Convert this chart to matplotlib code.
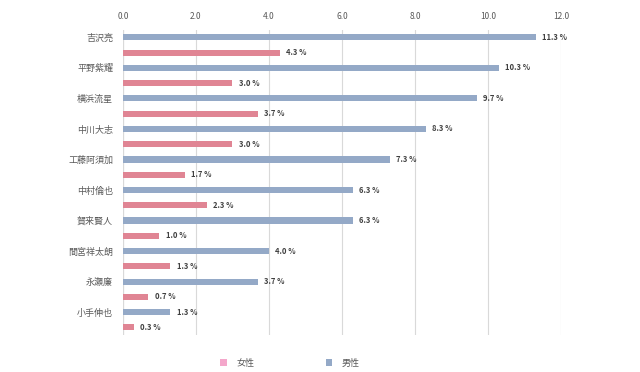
import numpy as np
import matplotlib.pyplot as plt
from matplotlib.patches import Rectangle

plt.rcParams['font.family'] = ['Noto Sans CJK JP', 'DejaVu Sans']

names = ['吉沢亮', '平野紫耀', '横浜流星', '中川大志', '工藤阿須加',
         '中村倫也', '賀来賢人', '間宮祥太朗', '永瀬廉', '小手伸也']
male = [11.3, 10.3, 9.7, 8.3, 7.3, 6.3, 6.3, 4.0, 3.7, 1.3]
female = [4.3, 3.0, 3.7, 3.0, 1.7, 2.3, 1.0, 1.3, 0.7, 0.3]
xticks = [0, 2, 4, 6, 8, 10, 12]

blue = '#94a9c7'
pink = '#e08594'
pink_legend = '#f4a7cb'
grid_c = '#d9d9d9'
text_c = '#595959'

fig = plt.figure(figsize=(6.4, 3.72), dpi=100)
ax = fig.add_axes([0.192, 0.0995, 0.685, 0.8205])

idx = np.arange(len(names))
y_male = idx * 2
y_female = idx * 2 + 1

ax.barh(y_male, male, height=0.4, color=blue, zorder=3)
ax.barh(y_female, female, height=0.4, color=pink, zorder=3)

for y, v in zip(y_male, male):
    ax.text(v + 0.17, y, f'{v:.1f} %', va='center', ha='left', fontsize=5.5,
            color='#404040', fontweight='bold')
for y, v in zip(y_female, female):
    ax.text(v + 0.17, y, f'{v:.1f} %', va='center', ha='left', fontsize=5.5,
            color='#404040', fontweight='bold')

ax.set_xlim(0, 12)
ax.set_ylim(19.5, -0.5)
ax.set_xticks(xticks)
ax.set_xticklabels([f'{t:.1f}' for t in xticks], fontsize=6, color=text_c)
ax.xaxis.tick_top()
ax.tick_params(axis='x', length=0, pad=6)
ax.set_yticks(y_male)
ax.set_yticklabels(names, fontsize=6.5, color=text_c)
ax.tick_params(axis='y', length=0, pad=7)
ax.grid(axis='x', color=grid_c, linewidth=0.8, zorder=0)
for s in ax.spines.values():
    s.set_visible(False)
ax.axvline(0, color='#bfbfbf', linewidth=0.8, zorder=1)

# legend along the bottom
handles = [Rectangle((0, 0), 1, 1, facecolor=pink_legend, edgecolor='none'),
           Rectangle((0, 0), 1, 1, facecolor=blue, edgecolor='none')]
fig.legend(handles, ['女性', '男性'], loc='center', bbox_to_anchor=(0.453, 0.024),
           ncol=2, frameon=False, fontsize=6.5, handlelength=0.75, handleheight=0.75,
           columnspacing=7.9, handletextpad=1.05, labelcolor=text_c)

fig.savefig('out.png', dpi=100)
